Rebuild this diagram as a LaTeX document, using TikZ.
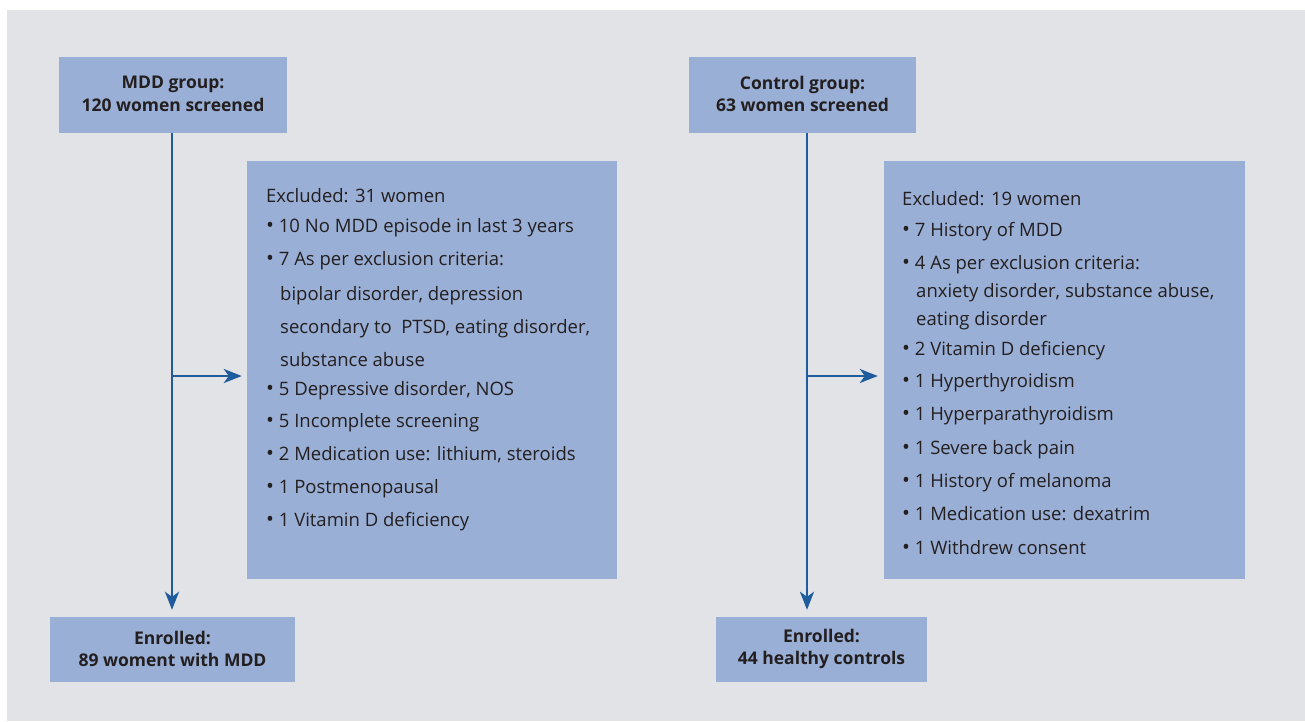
\documentclass[tikz,border=0pt]{standalone}
\usepackage{fontspec}
\setmainfont{Open Sans}
\usetikzlibrary{arrows.meta}
\definecolor{bgc}{HTML}{E1E3E6}
\definecolor{boxfill}{HTML}{9AAFD5}
\definecolor{arr}{HTML}{1F5C9E}
\definecolor{txt}{HTML}{231F20}
\newcommand{\bul}{{\fontsize{21}{21}\selectfont\raisebox{-0.5pt}{\textbullet}}\ }
\begin{document}
\begin{tikzpicture}[x=1pt,y=-1pt,
  box/.style={fill=boxfill, draw=none, inner sep=0pt},
  head/.style={font=\fontsize{17.5}{22.5}\selectfont\bfseries, text=txt, align=center, inner sep=0pt},
  tline/.style={font=\fontsize{18.5}{21}\selectfont, text=txt, anchor=base west, inner sep=0pt},
  conn/.style={draw=arr, line width=2.4pt, -{Stealth[length=18pt,width=14pt,inset=5pt]}}]
\useasboundingbox (0,0) rectangle (1305,721);
\fill[white] (0,0) rectangle (1305,721);
\fill[bgc] (7,10) rectangle (1305,721);

% left column
\node[box, minimum width=228pt, minimum height=76pt] (mdd) at (173,94.5) {};
\node[head] (mddt) at (173,94) {MDD group:\\120 women screened};
\node[box, minimum width=245pt, minimum height=65pt] (enrl) at (172.5,649.5) {};
\node[head] (enrlt) at (172.5,649) {Enrolled:\\89 woment with MDD};
\node[box, minimum width=370pt, minimum height=418pt] (exl) at (432,370) {};

\node[tline] (l1) at (266,202.5) {Excluded: 31 women};
\node[tline] (l2) at (266,232) {\bul 10 No MDD episode in last 3 years};
\node[tline] (l3) at (266,265) {\bul 7 As per exclusion criteria:};
\node[tline] (l4) at (280,300) {bipolar disorder, depression};
\node[tline] (l5) at (280,333) {secondary to\ \ PTSD, eating disorder,};
\node[tline] (l6) at (280,366) {substance abuse};
\node[tline] (l7) at (266,395) {\bul 5 Depressive disorder, NOS};
\node[tline] (l8) at (266,427) {\bul 5 Incomplete screening};
\node[tline] (l9) at (266,460) {\bul 2 Medication use: lithium, steroids};
\node[tline] (l10) at (266,493) {\bul 1 Postmenopausal};
\node[tline] (l11) at (266,526) {\bul 1 Vitamin D deficiency};

\coordinate (jl) at (172,376);
\draw[conn] (mdd.south -| jl) -- ([yshift=7pt]enrl.north -| jl);
\draw[conn] (jl) -- ([xshift=-5pt]exl.west |- jl);

% right column
\node[box, minimum width=227pt, minimum height=76pt] (ctl) at (802.5,94.5) {};
\node[head] (ctlt) at (802.5,94) {Control group:\\63 women screened};
\node[box, minimum width=211pt, minimum height=65pt] (enrr) at (821.5,649.5) {};
\node[head] (enrrt) at (821.5,649) {Enrolled:\\44 healthy controls};
\node[box, minimum width=361pt, minimum height=418pt] (exr) at (1064.5,370) {};

\node[tline] (r1) at (902,205.5) {Excluded: 19 women};
\node[tline] (r2) at (902,236) {\bul 7 History of MDD};
\node[tline] (r3) at (902,269) {\bul 4 As per exclusion criteria:};
\node[tline] (r4) at (916,297) {anxiety disorder, substance abuse,};
\node[tline] (r5) at (916,325) {eating disorder};
\node[tline] (r6) at (902,355) {\bul 2 Vitamin D deficiency};
\node[tline] (r7) at (902,387) {\bul 1 Hyperthyroidism};
\node[tline] (r8) at (902,420) {\bul 1 Hyperparathyroidism};
\node[tline] (r9) at (902,454) {\bul 1 Severe back pain};
\node[tline] (r10) at (902,487) {\bul 1 History of melanoma};
\node[tline] (r11) at (902,520) {\bul 1 Medication use: dexatrim};
\node[tline] (r12) at (902,554) {\bul 1 Withdrew consent};

\coordinate (jr) at (807,376);
\draw[conn] (ctl.south -| jr) -- ([yshift=7pt]enrr.north -| jr);
\draw[conn] (jr) -- ([xshift=-6pt]exr.west |- jr);
\end{tikzpicture}
\end{document}
